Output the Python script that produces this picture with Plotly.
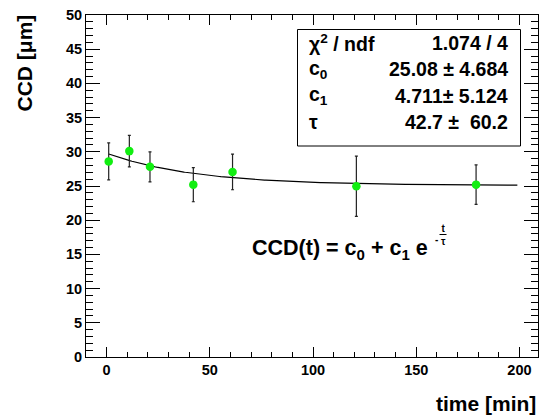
import numpy as np
import plotly.graph_objects as go

# Measured cluster-charge distance versus time
time_min = [1, 11, 21, 42, 61, 121, 179]
ccd_um = [28.6, 30.1, 27.8, 25.2, 27.05, 24.96, 25.2]
ccd_err = [2.7, 2.3, 2.2, 2.5, 2.6, 4.4, 2.9]

# Exponential fit results: CCD(t) = c0 + c1 * exp(-t / tau)
chi2, ndf = 1.074, 4
c0, c0_err = 25.08, 4.684
c1, c1_err = 4.711, 5.124
tau, tau_err = 42.7, 60.2
fit_range = [1, 199]

x_ticks = [0, 50, 100, 150, 200]
y_ticks = [0, 5, 10, 15, 20, 25, 30, 35, 40, 45, 50]

FONT = "Liberation Sans"
W, H = 539, 418
ML, MR, MT, MB = 86, 1, 15, 61
PW, PH = W - ML - MR, H - MT - MB


def px(xp):
    """Horizontal pixel -> paper coordinate."""
    return (xp - ML) / PW


def py(yp):
    """Vertical pixel -> paper coordinate."""
    return (H - MB - yp) / PH


t_fit = np.linspace(fit_range[0], fit_range[1], 300)
ccd_fit = c0 + c1 * np.exp(-t_fit / tau)

fig = go.Figure()
fig.add_trace(go.Scatter(
    x=t_fit, y=ccd_fit, mode="lines",
    line=dict(color="black", width=1.2), hoverinfo="skip",
))
fig.add_trace(go.Scatter(
    x=time_min, y=ccd_um, mode="markers",
    marker=dict(color="#11ee11", size=8.5, line=dict(width=0)),
    error_y=dict(type="data", array=ccd_err, color="#222222", thickness=1.2, width=1.5),
))

axis_common = dict(
    showgrid=False, zeroline=False, showline=True, linecolor="black", linewidth=1,
    mirror="allticks", ticks="inside", tickcolor="black", tickwidth=1,
    tickfont=dict(family=FONT, size=14.5, color="black", weight="bold"),
)
fig.update_xaxes(
    range=[-10, 209], tickvals=x_ticks, ticktext=[str(v) for v in x_ticks], ticklen=10,
    minor=dict(dtick=10, tick0=0, ticks="inside", ticklen=5, tickcolor="black", tickwidth=1),
    **axis_common,
)
fig.update_yaxes(
    range=[0, 50], tickvals=y_ticks, ticktext=[str(v) for v in y_ticks], ticklen=14,
    minor=dict(dtick=1, tick0=0, ticks="inside", ticklen=7, tickcolor="black", tickwidth=1),
    **axis_common,
)

title_font = dict(family=FONT, size=21, color="black", weight="bold")
stat_font = dict(family=FONT, size=19.5, color="black", weight="bold")
annotations = [
    dict(text="CCD [\u03bcm]", x=px(24), y=py(13), xref="paper", yref="paper",
         textangle=-90, xanchor="center", yanchor="top", showarrow=False, font=title_font),
    dict(text="time [min]", x=px(538), y=py(404), xref="paper", yref="paper",
         xanchor="right", yanchor="middle", showarrow=False, font=title_font),
]

# Fit statistics box
rows = [
    ("\u03c7<sup>2</sup> / ndf", f"{chi2:.3f} / {ndf}", 43),
    ("c<sub>0</sub>", f"{c0:.2f} \u00b1 {c0_err:.3f}", 69),
    ("c<sub>1</sub>", f"{c1:.3f}\u00b1 {c1_err:.3f}", 96),
    ("\u03c4", f"{tau:.1f} \u00b1  {tau_err:.1f}", 122),
]
for label, value, yp in rows:
    annotations.append(dict(text=label, x=px(307), y=py(yp), xref="paper", yref="paper",
                            xanchor="left", yanchor="middle", showarrow=False, font=stat_font))
    annotations.append(dict(text=value, x=px(510), y=py(yp), xref="paper", yref="paper",
                            xanchor="right", yanchor="middle", showarrow=False, font=stat_font))

# Fit formula with a stacked t/tau exponent
formula_font = dict(family=FONT, size=21.5, color="black", weight="bold")
small_font = dict(family=FONT, size=10, color="black", weight="bold")
annotations += [
    dict(text="CCD(t) = c<sub>0</sub> + c<sub>1</sub> e", x=px(250), y=py(249),
         xref="paper", yref="paper", xanchor="left", yanchor="middle",
         showarrow=False, font=formula_font),
    dict(text="-", x=px(436), y=py(239), xref="paper", yref="paper",
         xanchor="center", yanchor="middle", showarrow=False, font=small_font),
    dict(text="t<br>\u03c4", x=px(443), y=py(234.5), xref="paper", yref="paper",
         xanchor="center", yanchor="middle", showarrow=False, font=small_font),
]

shapes = [
    dict(type="rect", xref="paper", yref="paper", x0=px(297.5), x1=px(520.5),
         y0=py(146), y1=py(29.5), line=dict(color="black", width=1), fillcolor="white",
         layer="above"),
    dict(type="line", xref="paper", yref="paper", x0=px(439.5), x1=px(446.5),
         y0=py(234.5), y1=py(234.5), line=dict(color="black", width=1)),
]

fig.update_layout(
    width=W, height=H, margin=dict(l=ML, r=MR, t=MT, b=MB),
    paper_bgcolor="white", plot_bgcolor="white", showlegend=False,
    annotations=annotations, shapes=shapes,
)

fig.write_html("out.html")
